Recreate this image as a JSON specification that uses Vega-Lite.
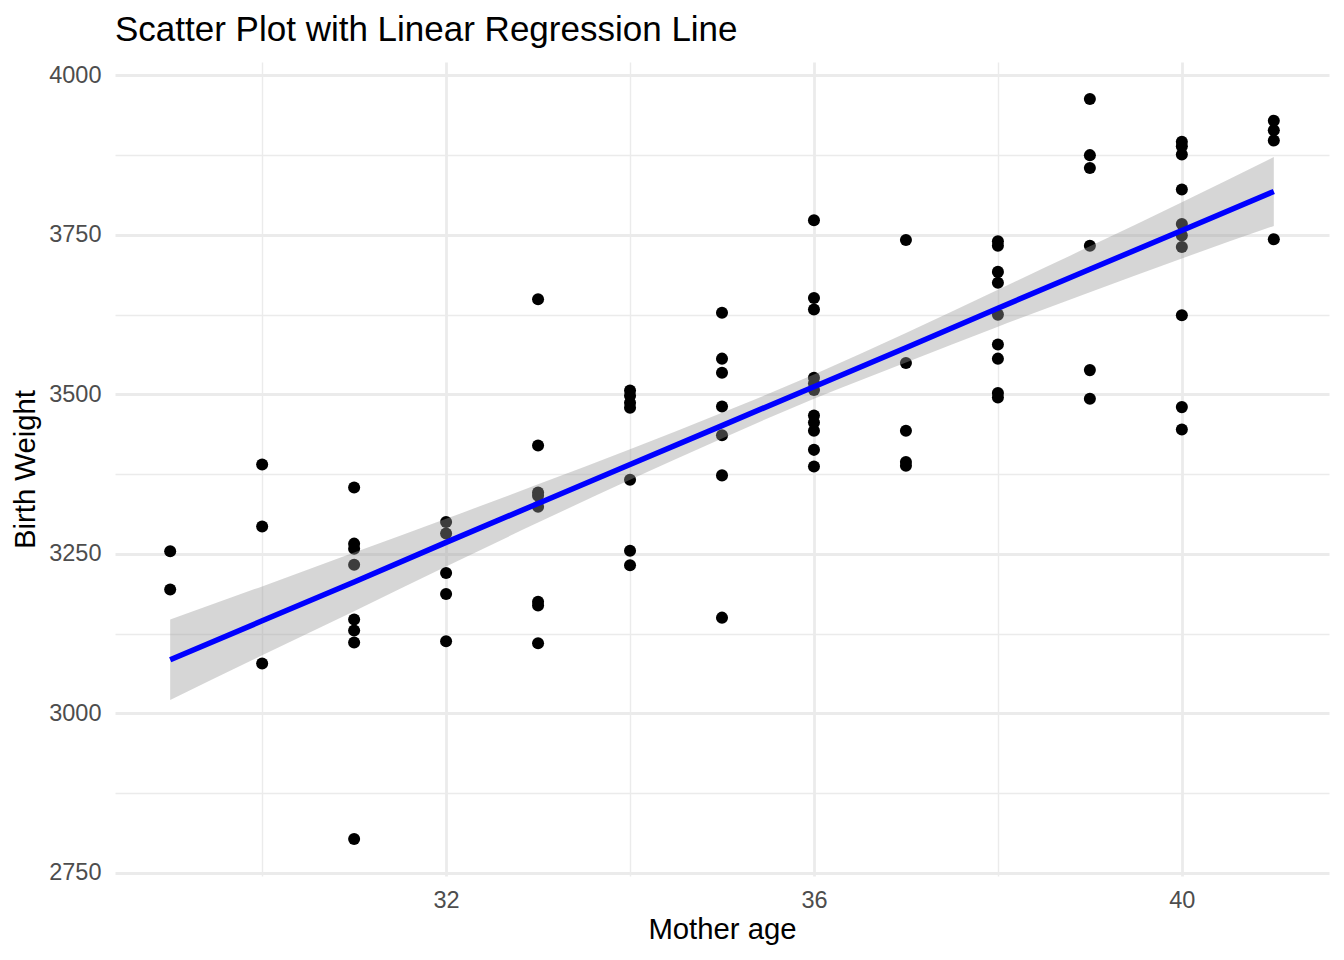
{
  "$schema": "https://vega.github.io/schema/vega-lite/v6.json",
  "width": 1214,
  "height": 814,
  "autosize": "none",
  "padding": {"left": 115, "top": 62, "right": 15, "bottom": 84},
  "background": "white",
  "title": {
    "text": "Scatter Plot with Linear Regression Line",
    "anchor": "start",
    "frame": "group",
    "font": "Liberation Sans",
    "fontSize": 35,
    "fontWeight": "normal",
    "color": "black",
    "offset": 14
  },
  "config": {
    "view": {"stroke": null},
    "axis": {
      "domain": false,
      "ticks": false,
      "tickSize": 0,
      "labelFont": "Liberation Sans",
      "labelFontSize": 23.5,
      "labelColor": "#4D4D4D",
      "labelFlush": false,
      "labelOverlap": false,
      "titleFont": "Liberation Sans",
      "titleFontSize": 29.3,
      "titleFontWeight": "normal",
      "titleColor": "black",
      "gridColor": "#EBEBEB"
    }
  },
  "datasets": {
    "births": [
      {"age": 29, "weight": 3254}, {"age": 29, "weight": 3194},
      {"age": 30, "weight": 3390}, {"age": 30, "weight": 3293}, {"age": 30, "weight": 3078},
      {"age": 31, "weight": 3354}, {"age": 31, "weight": 3266}, {"age": 31, "weight": 3258}, {"age": 31, "weight": 3233},
      {"age": 31, "weight": 3147}, {"age": 31, "weight": 3130}, {"age": 31, "weight": 3111}, {"age": 31, "weight": 2803},
      {"age": 32, "weight": 3300}, {"age": 32, "weight": 3282}, {"age": 32, "weight": 3220}, {"age": 32, "weight": 3187}, {"age": 32, "weight": 3113},
      {"age": 33, "weight": 3649}, {"age": 33, "weight": 3420}, {"age": 33, "weight": 3346}, {"age": 33, "weight": 3341},
      {"age": 33, "weight": 3324}, {"age": 33, "weight": 3175}, {"age": 33, "weight": 3169}, {"age": 33, "weight": 3110},
      {"age": 34, "weight": 3506}, {"age": 34, "weight": 3498}, {"age": 34, "weight": 3487}, {"age": 34, "weight": 3479},
      {"age": 34, "weight": 3366}, {"age": 34, "weight": 3255}, {"age": 34, "weight": 3232},
      {"age": 35, "weight": 3628}, {"age": 35, "weight": 3556}, {"age": 35, "weight": 3534}, {"age": 35, "weight": 3481},
      {"age": 35, "weight": 3436}, {"age": 35, "weight": 3373}, {"age": 35, "weight": 3150},
      {"age": 36, "weight": 3773}, {"age": 36, "weight": 3651}, {"age": 36, "weight": 3633}, {"age": 36, "weight": 3526},
      {"age": 36, "weight": 3517}, {"age": 36, "weight": 3507}, {"age": 36, "weight": 3467}, {"age": 36, "weight": 3456},
      {"age": 36, "weight": 3443}, {"age": 36, "weight": 3413}, {"age": 36, "weight": 3387},
      {"age": 37, "weight": 3742}, {"age": 37, "weight": 3549}, {"age": 37, "weight": 3443}, {"age": 37, "weight": 3394}, {"age": 37, "weight": 3388},
      {"age": 38, "weight": 3740}, {"age": 38, "weight": 3733}, {"age": 38, "weight": 3692}, {"age": 38, "weight": 3675},
      {"age": 38, "weight": 3625}, {"age": 38, "weight": 3578}, {"age": 38, "weight": 3556}, {"age": 38, "weight": 3502}, {"age": 38, "weight": 3495},
      {"age": 39, "weight": 3963}, {"age": 39, "weight": 3875}, {"age": 39, "weight": 3855}, {"age": 39, "weight": 3733},
      {"age": 39, "weight": 3538}, {"age": 39, "weight": 3493},
      {"age": 40, "weight": 3896}, {"age": 40, "weight": 3889}, {"age": 40, "weight": 3876}, {"age": 40, "weight": 3821},
      {"age": 40, "weight": 3767}, {"age": 40, "weight": 3749}, {"age": 40, "weight": 3731}, {"age": 40, "weight": 3624},
      {"age": 40, "weight": 3480}, {"age": 40, "weight": 3445},
      {"age": 41, "weight": 3929}, {"age": 41, "weight": 3914}, {"age": 41, "weight": 3898}, {"age": 41, "weight": 3743}
    ],
    "smooth": [
      {"age": 29, "fit": 3084, "lower": 3021, "upper": 3147},
      {"age": 30, "fit": 3145, "lower": 3091, "upper": 3199},
      {"age": 31, "fit": 3206, "lower": 3160, "upper": 3252},
      {"age": 32, "fit": 3268, "lower": 3230, "upper": 3305},
      {"age": 33, "fit": 3329, "lower": 3299, "upper": 3359},
      {"age": 34, "fit": 3390, "lower": 3366, "upper": 3414},
      {"age": 35, "fit": 3451, "lower": 3431, "upper": 3471},
      {"age": 36, "fit": 3512, "lower": 3493, "upper": 3531},
      {"age": 37, "fit": 3573, "lower": 3550, "upper": 3596},
      {"age": 38, "fit": 3635, "lower": 3606, "upper": 3664},
      {"age": 39, "fit": 3696, "lower": 3660, "upper": 3732},
      {"age": 40, "fit": 3757, "lower": 3713, "upper": 3801},
      {"age": 41, "fit": 3818, "lower": 3764, "upper": 3872}
    ]
  },
  "layer": [
    {
      "data": {"name": "births"},
      "mark": {"type": "circle", "color": "black", "opacity": 1, "size": 145},
      "encoding": {
        "x": {
          "field": "age", "type": "quantitative",
          "scale": {"domain": [28.4, 41.6], "nice": false, "zero": false},
          "axis": {
            "title": "Mother age",
            "format": "d",
            "values": [30, 32, 34, 36, 38, 40],
            "labelExpr": "datum.value % 4 === 0 ? datum.label : ''",
            "gridWidth": {"condition": {"test": "datum.value % 4 === 0", "value": 2.8}, "value": 1.4},
            "labelPadding": 12,
            "titlePadding": 4
          }
        },
        "y": {
          "field": "weight", "type": "quantitative",
          "scale": {"domain": [2745, 4021], "nice": false, "zero": false},
          "axis": {
            "title": "Birth Weight",
            "format": "d",
            "values": [2750, 2875, 3000, 3125, 3250, 3375, 3500, 3625, 3750, 3875, 4000],
            "labelExpr": "datum.value % 250 === 0 ? datum.label : ''",
            "gridWidth": {"condition": {"test": "datum.value % 250 === 0", "value": 2.8}, "value": 1.4},
            "labelPadding": 14,
            "titlePadding": 8
          }
        }
      }
    },
    {
      "data": {"name": "smooth"},
      "mark": {"type": "area", "color": "#999999", "opacity": 0.4, "interpolate": "monotone"},
      "encoding": {
        "x": {"field": "age", "type": "quantitative"},
        "y": {"field": "lower", "type": "quantitative"},
        "y2": {"field": "upper"}
      }
    },
    {
      "data": {"name": "smooth"},
      "mark": {"type": "line", "color": "#0000FF", "strokeWidth": 5.5},
      "encoding": {
        "x": {"field": "age", "type": "quantitative"},
        "y": {"field": "fit", "type": "quantitative"}
      }
    }
  ]
}
